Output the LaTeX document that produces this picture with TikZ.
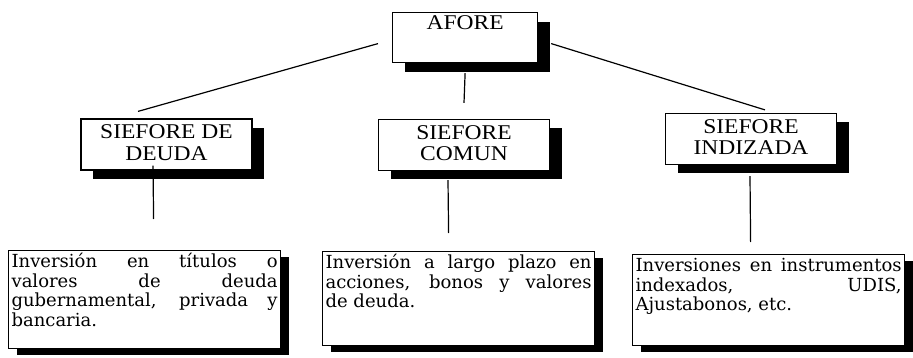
\documentclass[tikz,border=0pt]{standalone}
\usepackage{fontspec}
\setmainfont{Liberation Serif}[FakeStretch=1.12]
\newfontfamily\cuerpo{DejaVu Serif}
\usetikzlibrary{shadows}
\begin{document}
\begin{tikzpicture}[x=1pt,y=-1pt,line width=1.2pt,
  caja/.style={draw,fill=white,align=center,inner sep=0pt,
    minimum width=171pt,minimum height=51pt,text depth=4pt,
    font=\fontsize{21}{21.5}\selectfont,
    drop shadow={shadow xshift=12pt,shadow yshift=-9pt,fill=black,opacity=1}},
  cajatexto/.style={draw,fill=white,anchor=north west,align=justify,
    text width=266pt,inner sep=3pt,text height=14pt,text depth=78pt,
    font=\cuerpo\fontsize{18}{19.5}\selectfont,
    drop shadow={shadow xshift=8pt,shadow yshift=-6pt,fill=black,opacity=1}}]
\useasboundingbox (0,0) rectangle (913,358);
% cajas de arriba
\node[caja,anchor=north west,minimum width=145pt,minimum height=50pt,
  inner sep=2pt,text height=15pt,text depth=31pt] (afore) at (392,12) {AFORE};
\node[caja] (deuda) at (166.5,144.5) {SIEFORE DE\\DEUDA};
\node[caja] (comun) at (464,145) {SIEFORE\\COMUN};
\node[caja] (indizada) at (751,139) {SIEFORE\\INDIZADA};
% cajas de texto
\node[cajatexto] (tdeuda) at (8,250) {\hyphenpenalty=10000
  Inversión en títulos o\linebreak valores de deuda\linebreak
  gubernamental, privada y\linebreak bancaria.};
\node[cajatexto,text depth=74pt] (tcomun) at (322,251) {\hyphenpenalty=10000
  Inversión a largo plazo en\linebreak acciones, bonos y valores\linebreak
  de deuda.};
\node[cajatexto,text depth=71pt] (tindizada) at (632,254) {\hyphenpenalty=10000
  Inversiones en instrumentos\linebreak indexados, UDIS,\linebreak
  Ajustabonos, etc.};
% lineas
\draw ([shift={(-14,6)}]afore.west) -- ([shift={(-28.5,-7)}]deuda.north);
\draw ([shift={(0,10)}]afore.south) -- ([shift={(0,-16)}]comun.north);
\draw ([shift={(13,6)}]afore.east) -- ([shift={(14,-3)}]indizada.north);
\draw ([shift={(-13.5,-5)}]deuda.south) -- ([shift={(9,-31)}]tdeuda.north);
\draw ([shift={(-16,9)}]comun.south) -- ([shift={(-10,-18)}]tcomun.north);
\draw ([shift={(-1,11)}]indizada.south) -- ([shift={(-18,-12)}]tindizada.north);
\end{tikzpicture}
\end{document}
